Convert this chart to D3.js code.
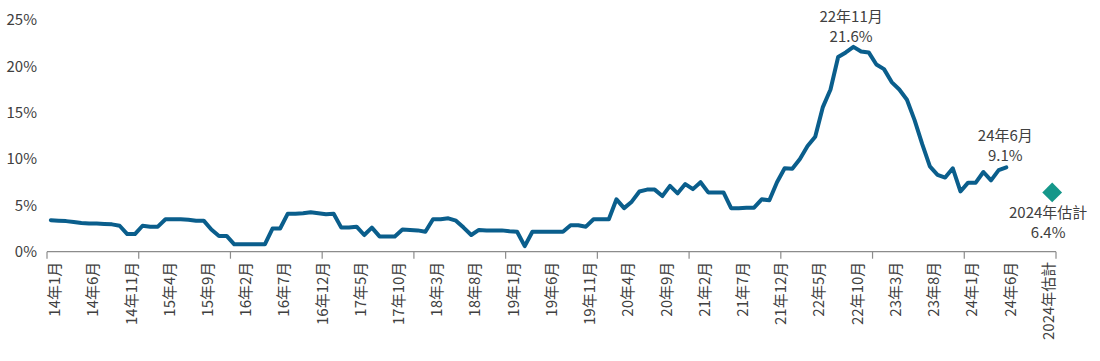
<!DOCTYPE html>
<html>
<head>
<meta charset="utf-8">
<script src="https://cdn.jsdelivr.net/npm/d3@7"></script>
<style>
  html, body { margin: 0; padding: 0; background: #fff; }
  svg { display: block; font-family: "Noto Sans CJK TC", "Noto Sans", sans-serif; }
</style>
</head>
<body>
<svg id="chart" width="1100" height="361"></svg>
<script>
// ---- Data ----
const startYear = 14;          // 2014
const nCategories = 132;       // 14年1月 .. 24年12月 (monthly)
const values = [
  3.4, 3.35, 3.3, 3.2, 3.1, 3.05, 3.05, 3.0, 2.95, 2.8,
  1.9, 1.9, 2.8, 2.7, 2.7, 3.5, 3.5, 3.5, 3.45, 3.35,
  3.35, 2.4, 1.7, 1.7, 0.8, 0.8, 0.8, 0.8, 0.8, 2.5,
  2.5, 4.1, 4.1, 4.15, 4.25, 4.15, 4.05, 4.1, 2.6, 2.6,
  2.7, 1.8, 2.6, 1.65, 1.65, 1.65, 2.4, 2.35, 2.3, 2.15,
  3.5, 3.5, 3.6, 3.35, 2.6, 1.8, 2.35, 2.3, 2.3, 2.3,
  2.2, 2.15, 0.6, 2.15, 2.15, 2.15, 2.15, 2.15, 2.85, 2.85,
  2.7, 3.5, 3.5, 3.5, 5.65, 4.7, 5.4, 6.5, 6.7, 6.7,
  6.0, 7.1, 6.3, 7.3, 6.75, 7.5, 6.4, 6.4, 6.4, 4.7,
  4.7, 4.75, 4.75, 5.65, 5.55, 7.5, 9.0, 8.95, 10.0, 11.4,
  12.4, 15.6, 17.5, 21.0, 21.5, 22.1, 21.6, 21.5, 20.2, 19.7,
  18.3, 17.5, 16.4, 14.2, 11.6, 9.2, 8.3, 8.0, 9.0, 6.5,
  7.45, 7.45, 8.6, 7.7, 8.8, 9.1
];
const estimateIndex = 131;     // 2024 year-end estimate
const estimateValue = 6.4;
const tickLabels = [
  "14年1月","14年6月","14年11月","15年4月","15年9月","16年2月","16年7月",
  "16年12月","17年5月","17年10月","18年3月","18年8月","19年1月","19年6月",
  "19年11月","20年4月","20年9月","21年2月","21年7月","21年12月","22年5月",
  "22年10月","23年3月","23年8月","24年1月","24年6月","2024年估計"
];
const labelStep = 5;
const yTicks = [0, 5, 10, 15, 20, 25];
const peakIndex = 106, peakLabel = ["22年11月", "21.6%"];
const lastIndex = 125, lastLabel = ["24年6月", "9.1%"];
const estLabel = ["2024年估計", "6.4%"];

// ---- Layout ----
const categories = d3.range(nCategories);
const svg = d3.select("#chart");
const x = d3.scaleBand().domain(categories).range([47, 1056]).padding(0);
const cx = i => x(i) + x.bandwidth() / 2;
const y = d3.scaleLinear().domain([0, 25]).range([251.7, 20]);

const textColor = "#404040";
const lineColor = "#0a5e8c";
const diamondColor = "#15978a";

// y-axis labels
svg.append("g").selectAll("text").data(yTicks).join("text")
  .attr("x", 37).attr("y", d => y(d)).attr("dy", "0.35em")
  .attr("text-anchor", "end").attr("font-size", 15).attr("fill", textColor)
  .text(d => d + "%");

// x baseline
svg.append("line")
  .attr("x1", x.range()[0]).attr("x2", x.range()[1])
  .attr("y1", y(0)).attr("y2", y(0))
  .attr("stroke", "#8c8c8c").attr("stroke-width", 1.2);

// tick marks at every 12 months
const tickBounds = d3.range(0, nCategories + 1, 12);
svg.append("g").selectAll("line").data(tickBounds).join("line")
  .attr("x1", d => d < nCategories ? x(d) : x.range()[1])
  .attr("x2", d => d < nCategories ? x(d) : x.range()[1])
  .attr("y1", y(0)).attr("y2", y(0) + 7)
  .attr("stroke", "#8c8c8c").attr("stroke-width", 1.2);

// x tick labels (rotated)
svg.append("g").selectAll("text").data(tickLabels).join("text")
  .attr("transform", (d, k) => `translate(${cx(k * labelStep) + 4},${y(0) + 10}) rotate(-90)`)
  .attr("dy", "0.35em").attr("text-anchor", "end")
  .attr("font-size", 15).attr("fill", textColor)
  .text(d => d);

// line
const line = d3.line().x((d, i) => cx(i)).y(d => y(d)).curve(d3.curveLinear);
svg.append("path").datum(values)
  .attr("d", line).attr("fill", "none")
  .attr("stroke", lineColor).attr("stroke-width", 4)
  .attr("stroke-linejoin", "round").attr("stroke-linecap", "round");

// estimate diamond
svg.append("path")
  .attr("d", d3.symbol().type(d3.symbolSquare).size(196)())
  .attr("transform", `translate(${cx(estimateIndex)},${y(estimateValue)}) rotate(45)`)
  .attr("fill", diamondColor);

// annotations
function annotate(lines, ax, ay) {
  svg.append("g").selectAll("text").data(lines).join("text")
    .attr("x", ax).attr("y", (d, k) => ay + k * 20)
    .attr("text-anchor", "middle").attr("font-size", 15).attr("fill", textColor)
    .text(d => d);
}
annotate(peakLabel, cx(peakIndex) - 10, y(values[peakIndex]) - 30);
annotate(lastLabel, cx(lastIndex) - 1, y(values[lastIndex]) - 26);
annotate(estLabel, cx(estimateIndex) - 4, y(estimateValue) + 26);
</script>
</body>
</html>
